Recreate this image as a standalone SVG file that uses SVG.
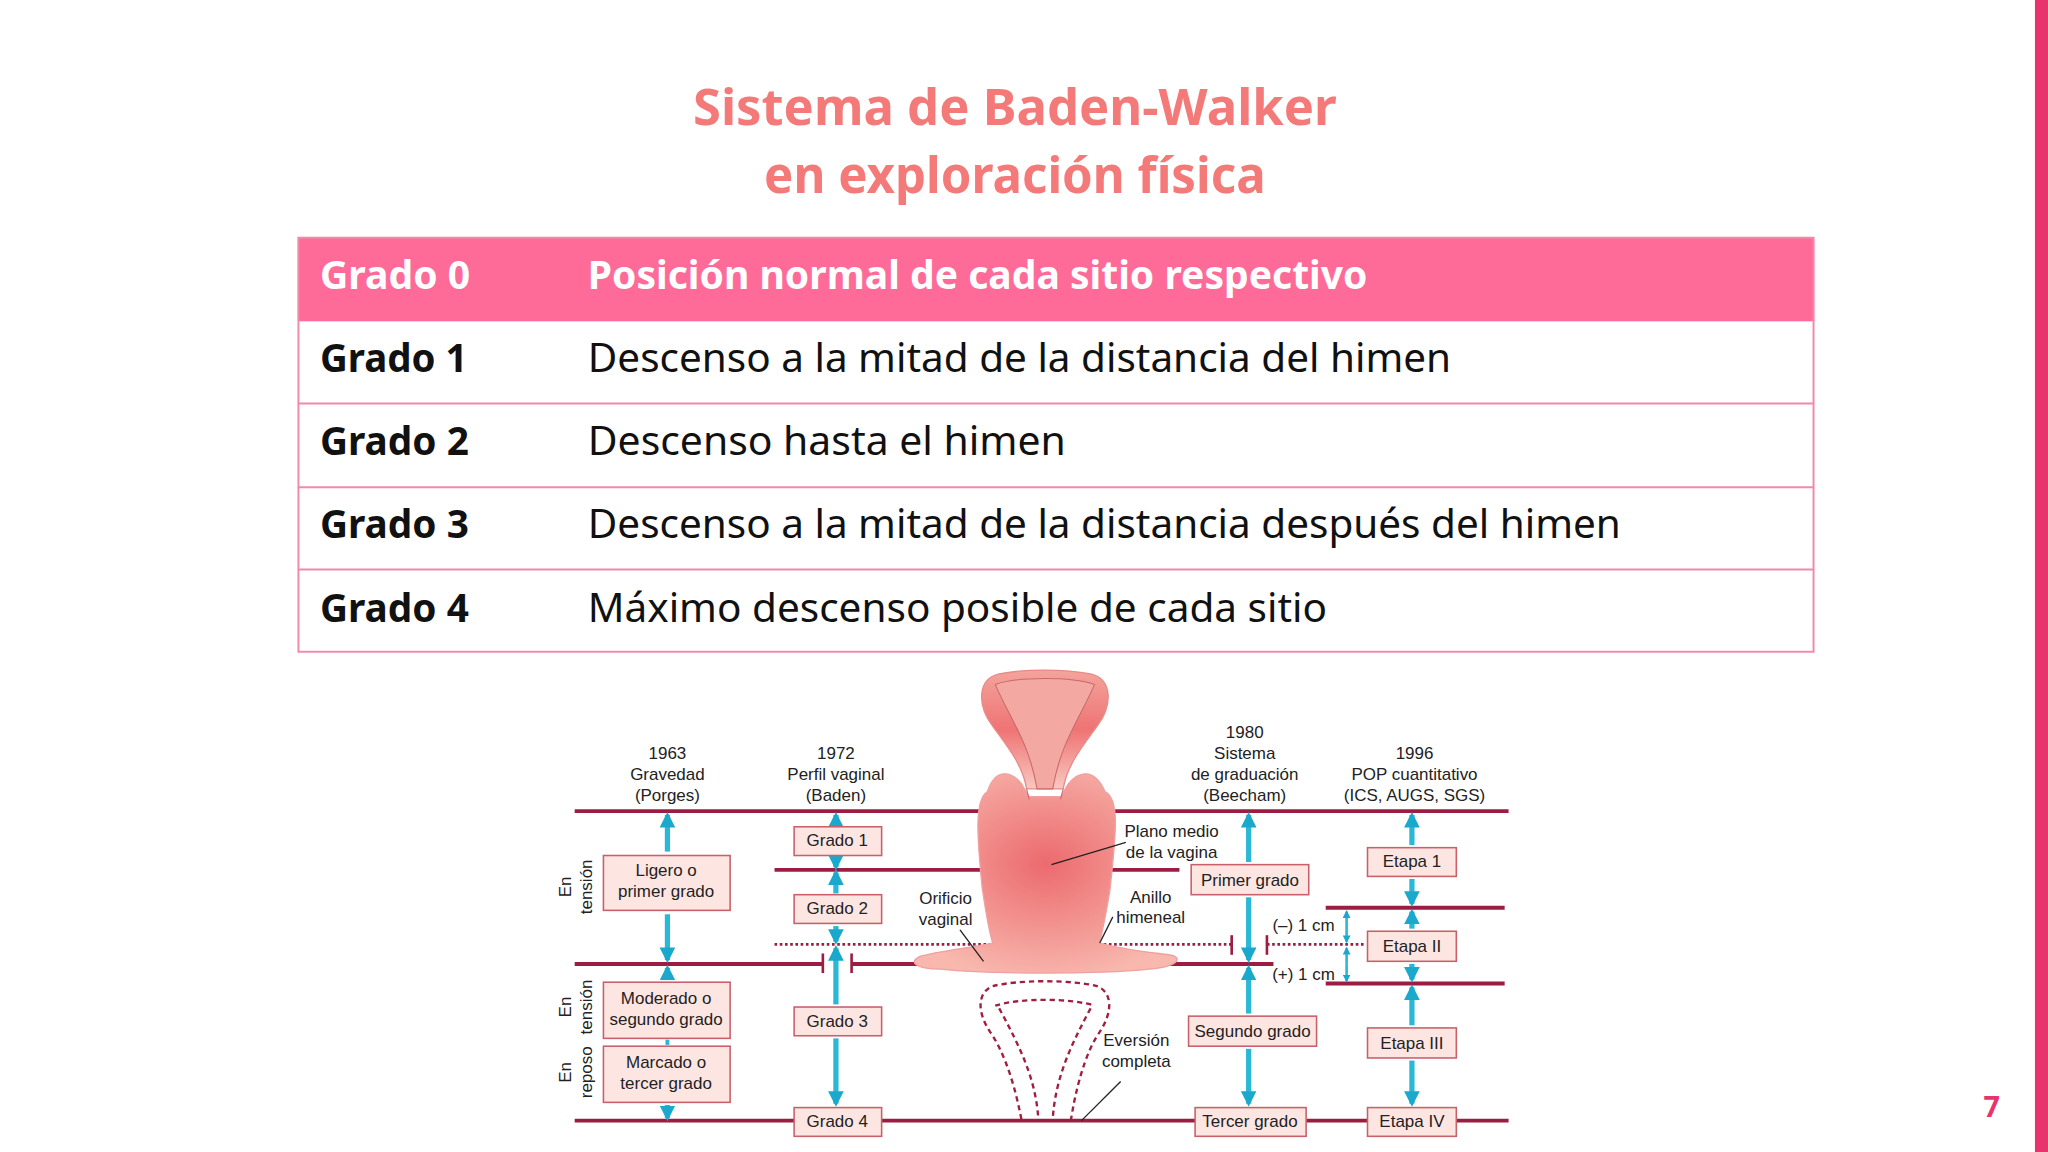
<svg xmlns="http://www.w3.org/2000/svg" width="2048" height="1152" viewBox="0 0 2048 1152">
<defs>
<style>
.t{font-family:"Noto Sans","Open Sans",sans-serif}
.ti{font-weight:bold;fill:#f47a7a;font-size:38px}
.hd{font-weight:bold;fill:#fff;font-size:30px}
.c1{font-weight:bold;fill:#111;font-size:30px}
.c2{fill:#111;font-size:30px}
.f{font-family:"Liberation Sans",Arial,sans-serif;font-size:13px;fill:#222;text-anchor:middle}
.bx{fill:#fde6e2;stroke:#c8606a;stroke-width:1.2}
.ln{stroke:#9c1c42;stroke-width:3;fill:none}
.ar{stroke:#2bb8d6;stroke-width:4;fill:none;marker-end:url(#ah)}
.lead{stroke:#222;stroke-width:1;fill:none}
</style>
<marker id="ah" viewBox="0 0 10 10" refX="8" refY="5" markerWidth="3" markerHeight="3" orient="auto"><path d="M0,0L10,5L0,10z" fill="#1aa9cc"/></marker>
<linearGradient id="ug" x1="0" y1="0" x2="0" y2="1"><stop offset="0" stop-color="#f4a49c"/><stop offset="0.5" stop-color="#ee7474"/><stop offset="1" stop-color="#f9c8c0"/></linearGradient>
<radialGradient id="vg" cx="0.5" cy="0.45" r="0.6"><stop offset="0" stop-color="#ec6a6e"/><stop offset="1" stop-color="#f8b8ae"/></radialGradient>
</defs>
<rect width="2048" height="1152" fill="#fff"/>
<g transform="scale(1.30612)">
<rect x="1558" y="0" width="10" height="882" fill="#e8336e"/>
<text class="t" x="1525" y="855" font-size="22" font-weight="bold" fill="#e8336e" text-anchor="middle">7</text>
<g id="title" class="t ti" text-anchor="middle">
<text x="777" y="96" textLength="493" lengthAdjust="spacingAndGlyphs">Sistema de Baden-Walker</text>
<text x="777" y="148" textLength="384" lengthAdjust="spacingAndGlyphs">en exploración física</text>
</g>
<g id="table" class="t">
<rect x="228" y="182" width="1161" height="64" fill="#ff6b98"/>
<rect x="228.5" y="182" width="1160" height="317" fill="none" stroke="#f08aa8" stroke-width="1.5"/>
<g stroke="#f08aa8" stroke-width="1.5"><line x1="228" y1="309" x2="1389" y2="309"/><line x1="228" y1="373" x2="1389" y2="373"/><line x1="228" y1="436" x2="1389" y2="436"/></g>
<text class="hd" x="245" y="221" textLength="115" lengthAdjust="spacingAndGlyphs">Grado 0</text>
<text class="hd" x="450" y="221" textLength="597" lengthAdjust="spacingAndGlyphs">Posición normal de cada sitio respectivo</text>
<text class="c1" x="245" y="285" textLength="113" lengthAdjust="spacingAndGlyphs">Grado 1</text>
<text class="c2" x="450" y="285" textLength="661" lengthAdjust="spacingAndGlyphs">Descenso a la mitad de la distancia del himen</text>
<text class="c1" x="245" y="348" textLength="114" lengthAdjust="spacingAndGlyphs">Grado 2</text>
<text class="c2" x="450" y="348" textLength="366" lengthAdjust="spacingAndGlyphs">Descenso hasta el himen</text>
<text class="c1" x="245" y="412" textLength="114" lengthAdjust="spacingAndGlyphs">Grado 3</text>
<text class="c2" x="450" y="412" textLength="791" lengthAdjust="spacingAndGlyphs">Descenso a la mitad de la distancia después del himen</text>
<text class="c1" x="245" y="476" textLength="114" lengthAdjust="spacingAndGlyphs">Grado 4</text>
<text class="c2" x="450" y="476" textLength="566" lengthAdjust="spacingAndGlyphs">Máximo descenso posible de cada sitio</text>
</g>
<g id="lines">
<line class="ln" x1="440" y1="621" x2="1155" y2="621"/>
<line class="ln" x1="593" y1="666" x2="903" y2="666"/>
<line class="ln" x1="440" y1="738" x2="630" y2="738"/>
<line class="ln" x1="652" y1="738" x2="975" y2="738"/>
<line class="ln" x1="1015" y1="695" x2="1152" y2="695"/>
<line class="ln" x1="1015" y1="753" x2="1152" y2="753"/>
<line class="ln" x1="440" y1="858" x2="1155" y2="858"/>
<g stroke="#9c1c42" stroke-width="2" stroke-dasharray="2,2"><line x1="593" y1="723" x2="760" y2="723"/><line x1="845" y1="723" x2="943" y2="723"/><line x1="970" y1="723" x2="1045" y2="723"/></g>
<g stroke="#9c1c42" stroke-width="2"><line x1="630" y1="730" x2="630" y2="745"/><line x1="652" y1="730" x2="652" y2="745"/><line x1="943" y1="716" x2="943" y2="731"/><line x1="970" y1="716" x2="970" y2="731"/></g>
</g>
<g id="organ">
<path d="M786,604 C783,585 770,570 760,556 C748,540 748,520 765,516 C785,512 815,512 835,516 C852,520 852,540 840,556 C830,570 817,585 814,604 Z" fill="url(#ug)" stroke="#e88a88"/>
<path d="M762,524 C780,518 820,518 838,524 C828,548 812,568 806,604 L794,604 C788,568 772,548 762,524 Z" fill="#f4a8a2" stroke="#c86a6a" stroke-width="0.8"/>
<path d="M756,606 C746,612 748,640 752,680 C755,700 757,712 760,722 C740,726 720,728 705,732 C695,736 700,742 720,742 C760,746 840,746 880,742 C905,740 905,732 895,731 C880,729 860,727 842,722 C844,712 847,700 850,680 C854,640 858,612 846,606 C838,588 826,590 818,600 L812,610 L788,610 L782,600 C774,590 762,588 756,606 Z" fill="url(#vg)" stroke="#f0a0a0"/>
<path d="M786,604 L788,612 M814,604 L812,612" stroke="#c86a6a" stroke-width="0.8"/>
<g fill="none" stroke="#a01e3e" stroke-width="1.8" stroke-dasharray="4,3">
<path d="M782,857 C775,820 765,800 758,790 C748,775 748,760 760,755 C780,750 820,750 840,755 C852,760 852,775 842,790 C835,800 826,820 820,857"/>
<path d="M762,770 C780,764 820,764 838,770"/>
<path d="M765,772 C780,800 793,825 795,857"/>
<path d="M835,772 C820,800 808,825 806,857"/>
</g>
</g>
<g id="leaders">
<line class="lead" x1="805" y1="662" x2="862" y2="645"/>
<line class="lead" x1="735" y1="712" x2="753" y2="736"/>
<line class="lead" x1="852" y1="702" x2="842" y2="722"/>
<line class="lead" x1="858" y1="828" x2="828" y2="858"/>
</g>
<g id="connectors">
<line class="ar" x1="511" y1="652" x2="511" y2="624"/>
<line class="ar" x1="511" y1="700" x2="511" y2="735"/>
<line class="ar" x1="511" y1="750" x2="511" y2="741"/>
<line x1="511" y1="796" x2="511" y2="800" stroke="#2bb8d6" stroke-width="3"/>
<line class="ar" x1="511" y1="846" x2="511" y2="856"/>
<line class="ar" x1="640" y1="632" x2="640" y2="624"/>
<line class="ar" x1="640" y1="657" x2="640" y2="664"/>
<line class="ar" x1="640" y1="684" x2="640" y2="668"/>
<line class="ar" x1="640" y1="709" x2="640" y2="721"/>
<line class="ar" x1="640" y1="769" x2="640" y2="726"/>
<line class="ar" x1="640" y1="795" x2="640" y2="845"/>
<line class="ar" x1="956" y1="660" x2="956" y2="624"/>
<line class="ar" x1="956" y1="687" x2="956" y2="735"/>
<line class="ar" x1="956" y1="776" x2="956" y2="741"/>
<line class="ar" x1="956" y1="803" x2="956" y2="845"/>
<line class="ar" x1="1081" y1="647" x2="1081" y2="624"/>
<line class="ar" x1="1081" y1="673" x2="1081" y2="692"/>
<line class="ar" x1="1081" y1="711" x2="1081" y2="698"/>
<line class="ar" x1="1081" y1="738" x2="1081" y2="750"/>
<line class="ar" x1="1081" y1="785" x2="1081" y2="756"/>
<line class="ar" x1="1081" y1="812" x2="1081" y2="845"/>
<line class="ar" x1="1031" y1="709" x2="1031" y2="698" style="stroke-width:2"/>
<line class="ar" x1="1031" y1="709" x2="1031" y2="721" style="stroke-width:2"/>
<line class="ar" x1="1031" y1="738" x2="1031" y2="726" style="stroke-width:2"/>
<line class="ar" x1="1031" y1="738" x2="1031" y2="751" style="stroke-width:2"/>
</g>
<g id="headers" class="f">
<text x="511" y="581">1963</text><text x="511" y="597">Gravedad</text><text x="511" y="613">(Porges)</text>
<text x="640" y="581">1972</text><text x="640" y="597">Perfil vaginal</text><text x="640" y="613">(Baden)</text>
<text x="953" y="565">1980</text><text x="953" y="581">Sistema</text><text x="953" y="597">de graduación</text><text x="953" y="613">(Beecham)</text>
<text x="1083" y="581">1996</text><text x="1083" y="597">POP cuantitativo</text><text x="1083" y="613">(ICS, AUGS, SGS)</text>
</g>
<g id="labels" class="f">
<text x="897" y="641">Plano medio</text><text x="897" y="657">de la vagina</text>
<text x="724" y="692">Orificio</text><text x="724" y="708">vaginal</text>
<text x="881" y="691">Anillo</text><text x="881" y="707">himeneal</text>
<text x="870" y="801">Eversión</text><text x="870" y="817">completa</text>
<text x="998" y="713">(–) 1 cm</text><text x="998" y="750">(+) 1 cm</text>
<text transform="translate(437,679) rotate(-90)">En</text><text transform="translate(453,679) rotate(-90)">tensión</text>
<text transform="translate(437,771) rotate(-90)">En</text><text transform="translate(453,771) rotate(-90)">tensión</text>
<text transform="translate(437,821) rotate(-90)">En</text><text transform="translate(453,821) rotate(-90)">reposo</text>
</g>
<g id="nodes" class="f">
<g id="n-ligero"><rect class="bx" x="462" y="655" width="97" height="42"/><text x="510" y="671">Ligero o</text><text x="510" y="687">primer grado</text></g>
<g id="n-moderado"><rect class="bx" x="462" y="752" width="97" height="43"/><text x="510" y="769">Moderado o</text><text x="510" y="785">segundo grado</text></g>
<g id="n-marcado"><rect class="bx" x="462" y="801" width="97" height="43"/><text x="510" y="818">Marcado o</text><text x="510" y="834">tercer grado</text></g>
<g id="n-g1"><rect class="bx" x="608" y="633" width="67" height="22"/><text x="641" y="648">Grado 1</text></g>
<g id="n-g2"><rect class="bx" x="608" y="685" width="67" height="22"/><text x="641" y="700">Grado 2</text></g>
<g id="n-g3"><rect class="bx" x="608" y="771" width="67" height="22"/><text x="641" y="786">Grado 3</text></g>
<g id="n-g4"><rect class="bx" x="608" y="848" width="67" height="22"/><text x="641" y="863">Grado 4</text></g>
<g id="n-primer"><rect class="bx" x="912" y="662" width="90" height="23"/><text x="957" y="678">Primer grado</text></g>
<g id="n-segundo"><rect class="bx" x="910" y="778" width="98" height="23"/><text x="959" y="794">Segundo grado</text></g>
<g id="n-tercer"><rect class="bx" x="915" y="848" width="85" height="22"/><text x="957" y="863">Tercer grado</text></g>
<g id="n-e1"><rect class="bx" x="1047" y="649" width="68" height="22"/><text x="1081" y="664">Etapa 1</text></g>
<g id="n-e2"><rect class="bx" x="1047" y="713" width="68" height="23"/><text x="1081" y="729">Etapa II</text></g>
<g id="n-e3"><rect class="bx" x="1047" y="787" width="68" height="23"/><text x="1081" y="803">Etapa III</text></g>
<g id="n-e4"><rect class="bx" x="1047" y="848" width="68" height="22"/><text x="1081" y="863">Etapa IV</text></g>
</g>
</g>
</svg>
